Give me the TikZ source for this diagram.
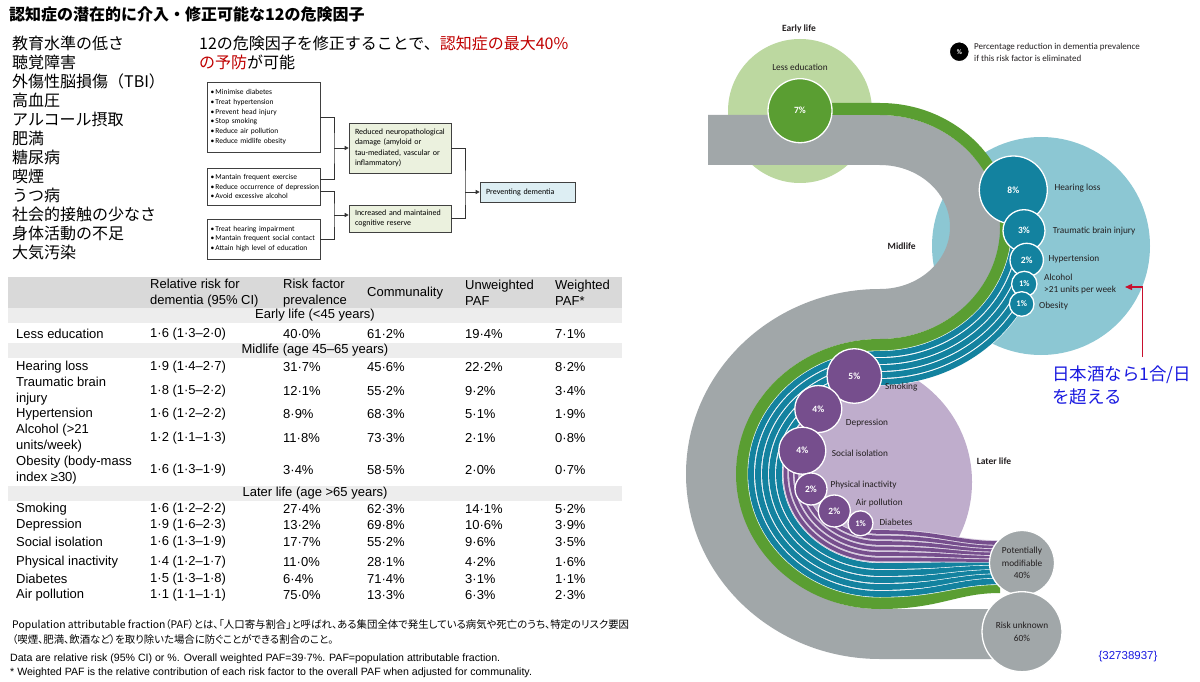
\documentclass[tikz,border=0pt]{standalone}
\usepackage{fontspec}
\setmainfont{Liberation Sans}
\newfontfamily\jpfont{Noto Sans CJK JP}
\newfontfamily\jpfoot[RawFeature=+palt]{Noto Sans CJK JP}
\newfontfamily\lancet{Carlito}
\usetikzlibrary{calc,arrows.meta}
\definecolor{lgreen}{HTML}{BCD8A0}
\definecolor{dgreen}{HTML}{5A9E32}
\definecolor{bandgray}{HTML}{A1A7A9}
\definecolor{lblue}{HTML}{8CC7D3}
\definecolor{midc}{HTML}{13829F}
\definecolor{lav}{HTML}{BFADCC}
\definecolor{purp}{HTML}{764E8D}
\definecolor{hdr}{HTML}{D9D9D9}
\definecolor{subhdr}{HTML}{EDEDED}
\definecolor{boxg}{HTML}{EBF1DE}
\definecolor{boxb}{HTML}{DDEEF3}
\definecolor{jred}{HTML}{C00000}
\definecolor{jblue}{HTML}{1A1AE0}
\definecolor{txt}{HTML}{231F20}
\definecolor{rarrow}{HTML}{C8102E}
\newcommand\bl[1]{\mbox{•\,#1}}
\tikzset{
    jptxt/.style={anchor=west, inner sep=0pt, font=\jpfont\fontsize{16}{19}\selectfont},
    cell/.style={anchor=west, inner sep=0pt, align=left, font=\fontsize{13}{16}\selectfont},
    bandtxt/.style={inner sep=0pt, font=\fontsize{13}{16}\selectfont},
    fbox/.style={draw=black!75, line width=0.6pt, align=left, inner xsep=3.5pt, inner ysep=2pt, text width=106pt, font=\lancet\fontsize{7.5}{9.8}\selectfont},
    gbox/.style={fbox, fill=boxg, inner xsep=6pt, text width=90pt, font=\lancet\fontsize{8}{10.3}\selectfont},
    conn/.style={draw=black!80, line width=0.6pt},
    arr/.style={conn, -{Triangle[length=4pt,width=4pt]}},
    fc/.style={circle, draw=white, line width=1.3pt, fill=#1, text=white, inner sep=0pt, font=\lancet\bfseries\fontsize{9.5}{11}\selectfont},
    lbl/.style={anchor=west, inner sep=0pt, align=left, text=txt, font=\lancet\fontsize{9.3}{12.6}\selectfont},
    stage/.style={inner sep=0pt, text=txt, font=\lancet\bfseries\fontsize{9.5}{11}\selectfont},
    tstrand/.style={draw=white, line width=0.6pt, double=midc, double distance=5.8pt},
    pstrand/.style={draw=white!45!lav, line width=0.9pt, double=purp, double distance=3.7pt}
}
\begin{document}
\begin{tikzpicture}[x=1pt,y=-1pt]
\useasboundingbox (0,0) rectangle (1200,682);
\fill[white] (0,0) rectangle (1200,682);

% title and risk factors
\node[anchor=west, inner sep=0pt, font=\jpfont\bfseries\fontsize{16}{19}\selectfont] (title) at (9,14) {認知症の潜在的に介入・修正可能な12の危険因子};
\foreach \t [count=\i] in {教育水準の低さ,聴覚障害,外傷性脳損傷（TBI）,高血圧,アルコール摂取,肥満,糖尿病,喫煙,うつ病,社会的接触の少なさ,身体活動の不足,大気汚染}
  \node[jptxt] (rf\i) at (12,24+19*\i) {\t};
\node[jptxt] (msg1) at (199,43) {12の危険因子を修正することで、\textcolor{jred}{認知症の最大40\%}};
\node[jptxt] (msg2) at (199,62) {\textcolor{jred}{の予防}が可能};

% flowchart
\node[fbox, minimum height=70pt] (b1) at (263.5,117) {\bl{Minimise diabetes}\\\bl{Treat hypertension}\\\bl{Prevent head injury}\\\bl{Stop smoking}\\\bl{Reduce air pollution}\\\bl{Reduce midlife obesity}};
\node[fbox, minimum height=37pt] (b2) at (263.5,186.5) {\bl{Mantain frequent exercise}\\\bl{Reduce occurrence of depression}\\\bl{Avoid excessive alcohol}};
\node[fbox, minimum height=40pt] (b3) at (263.5,239) {\bl{Treat hearing impairment}\\\bl{Mantain frequent social contact}\\\bl{Attain high level of education}};
\node[gbox, minimum height=50pt] (g1) at (400,148) {Reduced neuropathological\\damage (amyloid or\\tau-mediated, vascular or\\inflammatory)};
\node[gbox, minimum height=27pt] (g2) at (400,218.5) {Increased and maintained\\cognitive reserve};
\node[gbox, fill=boxb, text width=83pt, minimum height=20pt] (pd) at (527.5,192) {Preventing dementia};
\coordinate (j1) at (334,148);
\coordinate (j2) at (334,215);
\coordinate (j3) at (465,192);
\draw[conn] (b1.east) -| (j1) |- ($(b2.east)+(0,-7)$);
\draw[conn] ($(b2.east)+(0,5)$) -| (j2) |- (b3.east);
\draw[conn] (g1.east) -| (j3) |- (g2.east);
\draw[arr] (j1) -- (g1.west);
\draw[arr] (j2) -- (j2 -| g2.west);
\draw[arr] (j3) -- (pd.west);

% table
\fill[hdr] (8,277) rectangle (622,308);
\fill[subhdr] (8,308) rectangle (622,323);
\fill[subhdr] (8,343) rectangle (622,358);
\fill[subhdr] (8,486) rectangle (622,501);
\node[cell] (hd1) at (150,293) {Relative risk for\\dementia (95\% CI)};
\node[cell] (hd2) at (283,293) {Risk factor\\prevalence};
\node[cell] (hd3) at (367,293) {Communality};
\node[cell] (hd4) at (465,293) {Unweighted\\PAF};
\node[cell] (hd5) at (555,293) {Weighted\\PAF*};
\node[bandtxt] (early) at (315,315.5) {Early life (<45 years)};
\node[bandtxt] (mid) at (315,350.5) {Midlife (age 45–65 years)};
\node[bandtxt] (late) at (315,493.5) {Later life (age >65 years)};
\foreach \yy/\la/\rr/\pv/\cm/\uw/\wt [count=\i] in {
  334/Less education/1·6 (1·3–2·0)/40·0\%/61·2\%/19·4\%/7·1\%,
  367/Hearing loss/1·9 (1·4–2·7)/31·7\%/45·6\%/22·2\%/8·2\%,
  391/{Traumatic brain\\injury}/1·8 (1·5–2·2)/12·1\%/55·2\%/9·2\%/3·4\%,
  414/Hypertension/1·6 (1·2–2·2)/8·9\%/68·3\%/5·1\%/1·9\%,
  438/{Alcohol (>21\\units/week)}/1·2 (1·1–1·3)/11·8\%/73·3\%/2·1\%/0·8\%,
  470/{Obesity (body-mass\\index ≥30)}/1·6 (1·3–1·9)/3·4\%/58·5\%/2·0\%/0·7\%,
  509/Smoking/1·6 (1·2–2·2)/27·4\%/62·3\%/14·1\%/5·2\%,
  525/Depression/1·9 (1·6–2·3)/13·2\%/69·8\%/10·6\%/3·9\%,
  542/Social isolation/1·6 (1·3–1·9)/17·7\%/55·2\%/9·6\%/3·5\%,
  562/Physical inactivity/1·4 (1·2–1·7)/11·0\%/28·1\%/4·2\%/1·6\%,
  579/Diabetes/1·5 (1·3–1·8)/6·4\%/71·4\%/3·1\%/1·1\%,
  595/Air pollution/1·1 (1·1–1·1)/75·0\%/13·3\%/6·3\%/2·3\%}
{
  \node[cell] (ra\i) at (16,\yy) {\la};
  \node[cell] (rb\i) at (150,\yy) {\rr};
  \node[cell] (rc\i) at (283,\yy) {\pv};
  \node[cell] (rd\i) at (367,\yy) {\cm};
  \node[cell] (re\i) at (465,\yy) {\uw};
  \node[cell] (rg\i) at (555,\yy) {\wt};
}

% footnotes
\node[anchor=west, inner sep=0pt, font=\jpfoot\fontsize{10.4}{12}\selectfont] (fn1) at (12,625) {Population attributable fraction（PAF）とは、「人口寄与割合」と呼ばれ、ある集団全体で発生している病気や死亡のうち、特定のリスク要因};
\node[anchor=west, inner sep=0pt, font=\jpfoot\fontsize{10.4}{12}\selectfont] (fn2) at (12,640) {（喫煙、肥満、飲酒など）を取り除いた場合に防ぐことができる割合のこと。};
\node[anchor=west, inner sep=0pt, font=\fontsize{10.6}{12}\selectfont] (fn3) at (10,659) {Data are relative risk (95\% CI) or \%. Overall weighted PAF=39·7\%. PAF=population attributable fraction.};
\node[anchor=west, inner sep=0pt, font=\fontsize{10.6}{12}\selectfont] (fn4) at (10,673) {* Weighted PAF is the relative contribution of each risk factor to the overall PAF when adjusted for communality.};

% life stage circles
\fill[lgreen] (800,111) circle[radius=72];
\fill[lblue] (1041,246) circle[radius=109];
\fill[lav] (850,482) circle[radius=122];

% flows
\draw[bandgray, line width=50pt] (708,140) -- (880,140) arc[start angle=-90,end angle=90,x radius=95,y radius=87] arc[start angle=270,end angle=90,x radius=169,y radius=160] -- (1010,634);
\draw[dgreen, line width=12pt] (800,109) -- (880,109) arc[start angle=-90,end angle=90,x radius=126,y radius=118] arc[start angle=270,end angle=90,x radius=138,y radius=129] .. controls (940,603) and (955,587) .. (1000,587);
\foreach \d/\a/\e in {68/30/564,61/22/568.4,54/13/572.7,47/2/577,40/-16/581.4}
{
  \pgfmathsetmacro\rx{95+\d}
  \pgfmathsetmacro\ry{87+\d}
  \pgfmathsetmacro\cx{169-\d}
  \pgfmathsetmacro\cy{160-\d}
  \draw[tstrand] (880,227) ++(\a:{\rx} and {\ry}) arc[start angle=\a,end angle=90,x radius=\rx,y radius=\ry] arc[start angle=270,end angle=90,x radius=\cx,y radius=\cy] .. controls (940,634-\d) and (955,\e) .. (1000,\e);
}
\foreach \d/\a/\e in {74.5/255/560,80/226/556.6,85.5/196/553.2,91/168/549.8,96.5/141/546.4,102/112/543}
{
  \pgfmathsetmacro\cx{169-\d}
  \pgfmathsetmacro\cy{160-\d}
  \draw[pstrand] (880,474) ++(\a:{\cx} and {\cy}) arc[start angle=\a,end angle=90,x radius=\cx,y radius=\cy] .. controls (940,634-\d) and (955,\e) .. (1000,\e);
}

% risk factor circles
\node[fc=dgreen, minimum size=64pt] (edu) at (800,110.7) {7\%};
\node[fc=midc, minimum size=68pt] (hear) at (1013.3,190) {8\%};
\node[fc=midc, minimum size=42pt] (tbi) at (1024,230.7) {3\%};
\node[fc=midc, minimum size=33.4pt] (hyp) at (1026.7,260) {2\%};
\node[fc=midc, minimum size=25.4pt, font=\lancet\bfseries\fontsize{8.5}{10}\selectfont] (alc) at (1024.3,284) {1\%};
\node[fc=midc, minimum size=24.6pt, font=\lancet\bfseries\fontsize{8.5}{10}\selectfont] (obe) at (1021.7,304) {1\%};
\node[fc=purp, minimum size=54.6pt] (smk) at (854.3,376) {5\%};
\node[fc=purp, minimum size=47pt] (dep) at (818.3,409) {4\%};
\node[fc=purp, minimum size=47pt] (soc) at (802.3,450.7) {4\%};
\node[fc=purp, minimum size=32pt] (phy) at (811,489) {2\%};
\node[fc=purp, minimum size=32pt] (air) at (834.3,511) {2\%};
\node[fc=purp, minimum size=25pt, font=\lancet\bfseries\fontsize{8.5}{10}\selectfont] (dia) at (860.5,523.3) {1\%};
\node[fc=bandgray, minimum size=65pt, text=txt, align=center, font=\lancet\fontsize{9.3}{12.3}\selectfont] (pm) at (1022,563) {Potentially\\modifiable\\40\%};
\node[fc=bandgray, minimum size=80pt, text=txt, align=center, font=\lancet\fontsize{9.3}{12.3}\selectfont] (ru) at (1022,631.7) {Risk unknown\\60\%};

% labels
\node[stage] (searly) at (799,29) {Early life};
\node[stage] (smid) at (901.7,246.7) {Midlife};
\node[stage] (slate) at (994,461) {Later life};
\node[lbl, anchor=center] (ledu) at (800,67) {Less education};
\node[lbl] (lhear) at (1054.3,188.3) {Hearing loss};
\node[lbl] (ltbi) at (1052.7,231) {Traumatic brain injury};
\node[lbl] (lhyp) at (1048.3,259.3) {Hypertension};
\node[lbl] (lalc) at (1044,284) {Alcohol\\>21 units per week};
\node[lbl] (lobe) at (1039,306) {Obesity};
\node[lbl] (lsmk) at (885,386.7) {Smoking};
\node[lbl] (ldep) at (845.7,422.7) {Depression};
\node[lbl] (lsoc) at (831.7,453) {Social isolation};
\node[lbl] (lphy) at (830.3,485.3) {Physical inactivity};
\node[lbl] (lair) at (855.7,503.3) {Air pollution};
\node[lbl] (ldia) at (879.3,522.3) {Diabetes};

% legend
\node[fc=black, minimum size=20pt, font=\lancet\bfseries\fontsize{7}{8}\selectfont] (key) at (959.3,51.7) {\%};
\node[lbl, font=\lancet\fontsize{9}{11.6}\selectfont] (keytxt) at (974,52.5) {Percentage reduction in dementia prevalence\\if this risk factor is eliminated};

% note on alcohol
\coordinate (rs) at (1142.7,357);
\coordinate (rt) at (1125,287);
\draw[rarrow, line width=1.2pt, -{Triangle[length=7pt,width=6pt]}] (rs) |- (rt);
\node[anchor=west, inner sep=0pt, align=left, text=jblue, font=\jpfont\fontsize{17.5}{22.5}\selectfont] (sake) at (1052,385.5) {日本酒なら1合/日\\を超える};
\node[inner sep=0pt, text=jblue, font=\fontsize{11.5}{13}\selectfont] (pmid) at (1128,657) {\{32738937\}};
\end{tikzpicture}
\end{document}
